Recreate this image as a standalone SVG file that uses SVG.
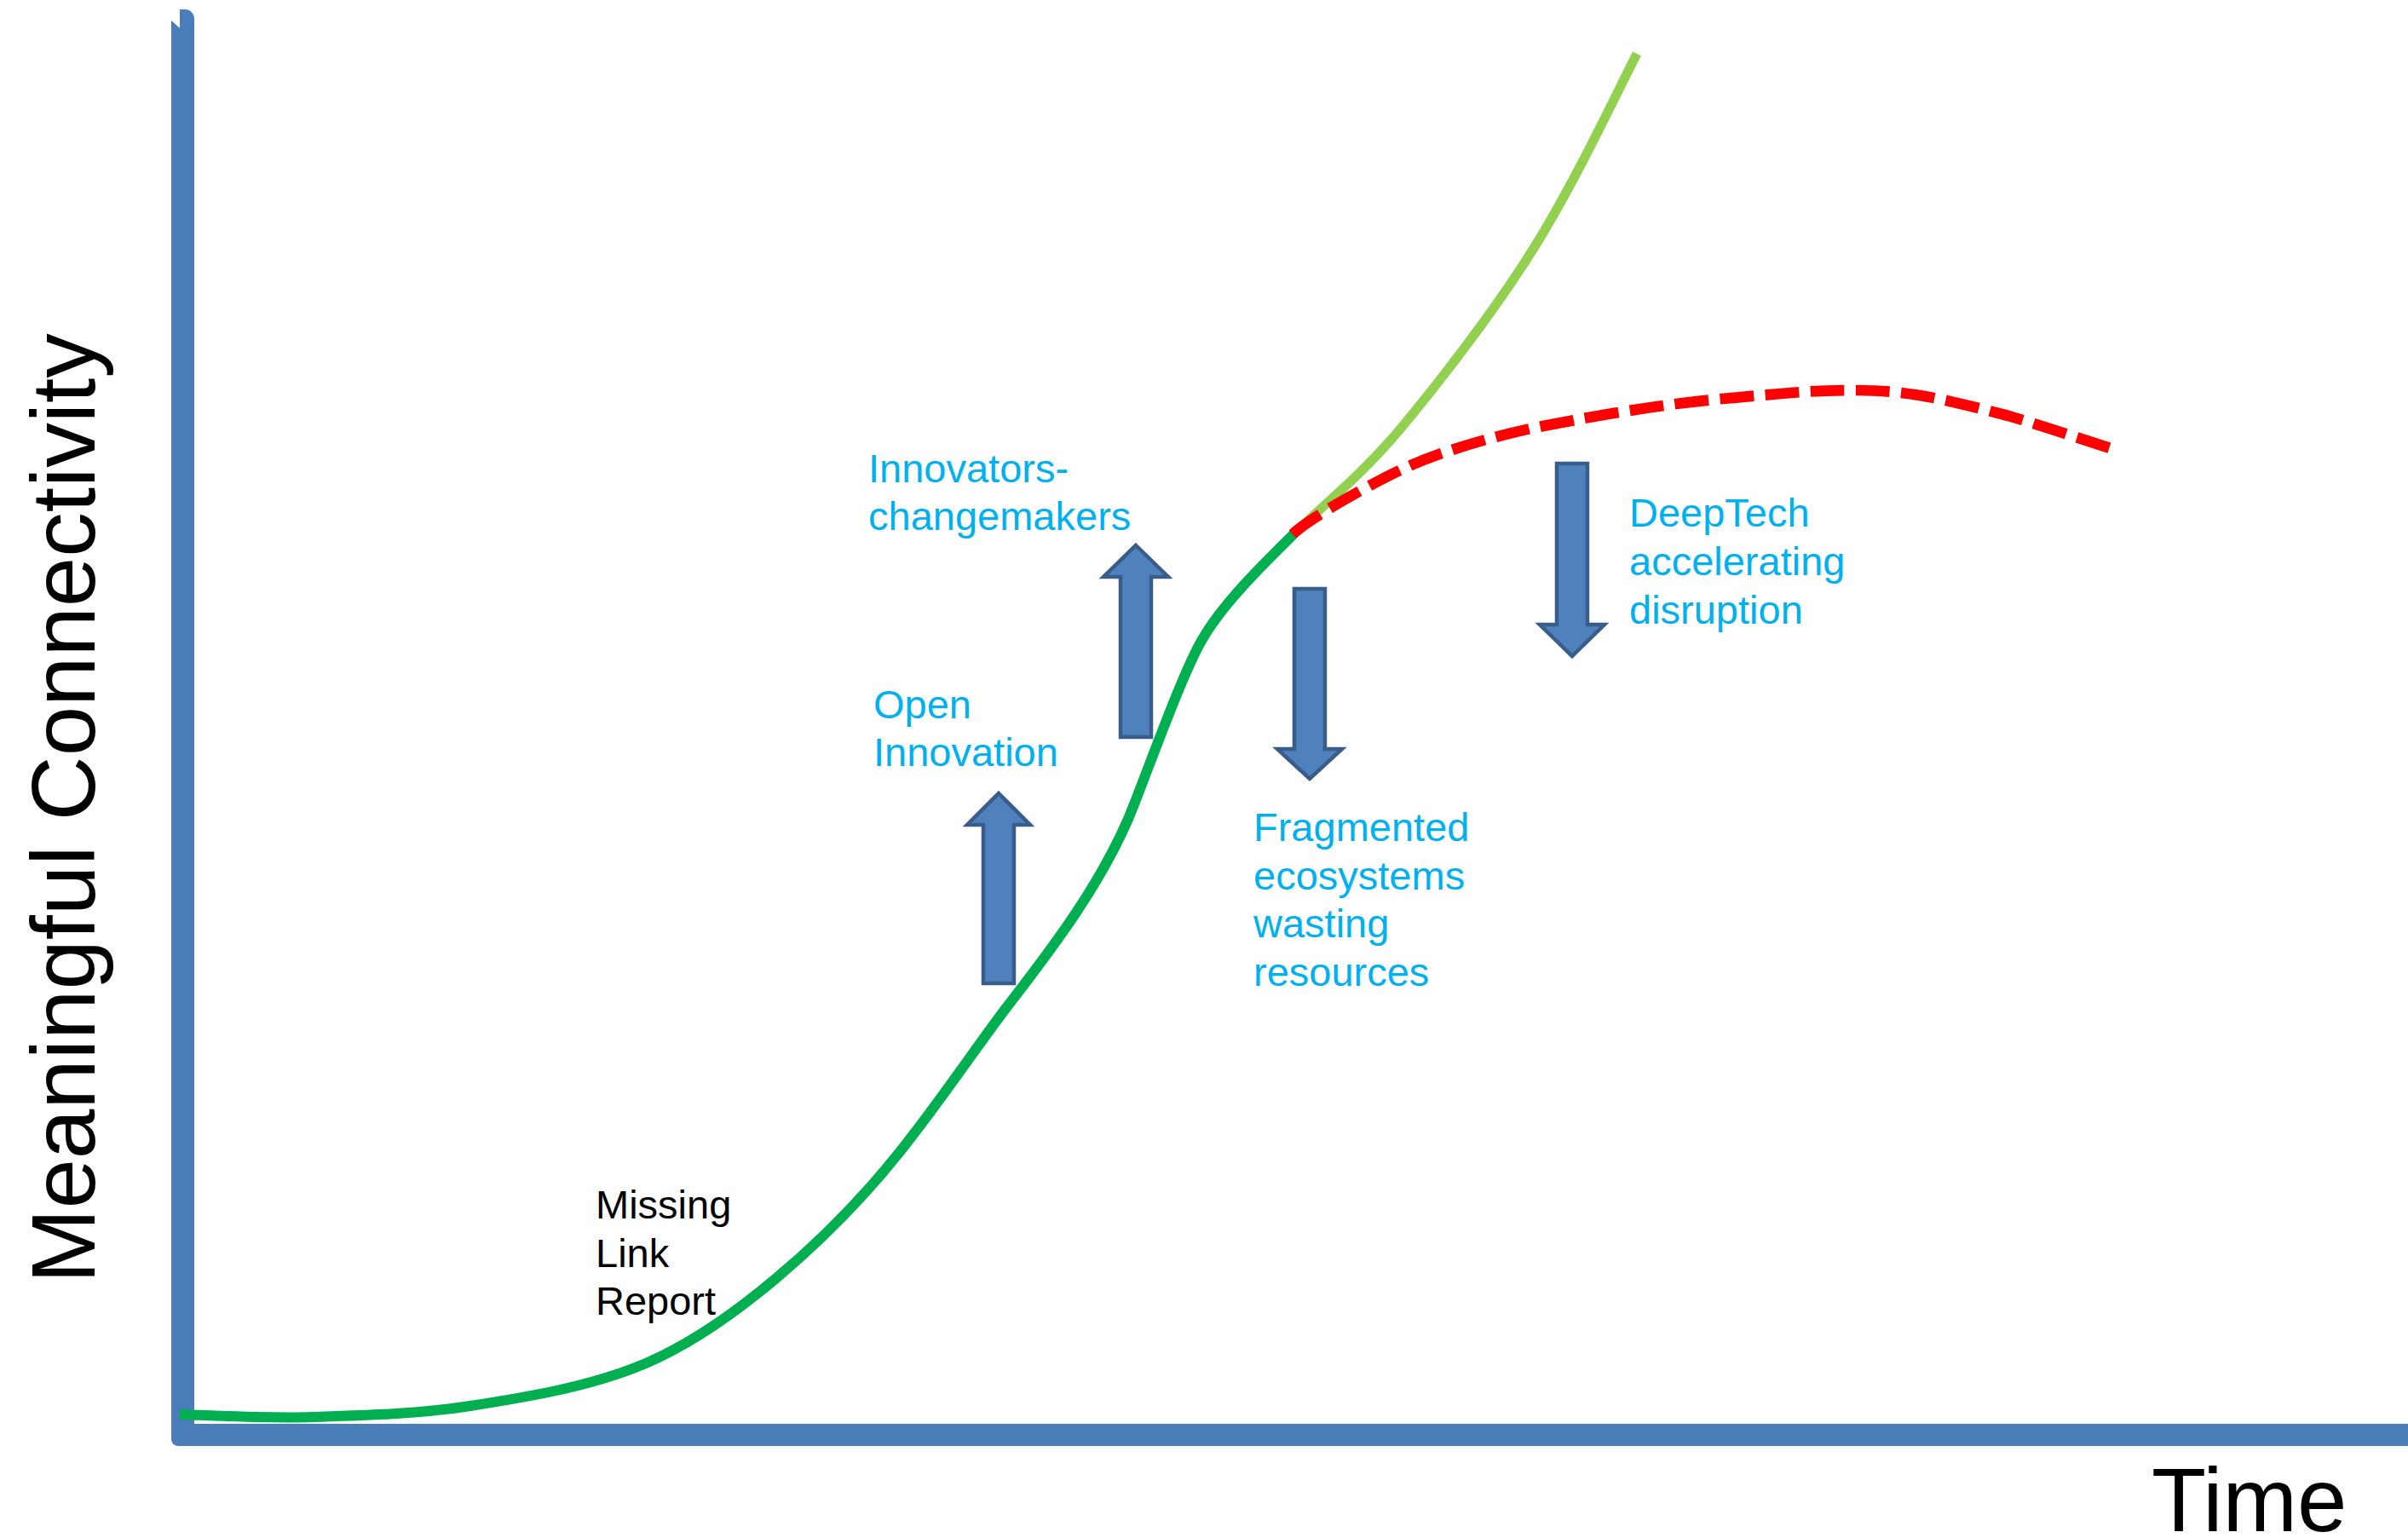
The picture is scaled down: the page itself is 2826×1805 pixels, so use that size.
<svg xmlns="http://www.w3.org/2000/svg" width="2826" height="1805" viewBox="0 0 2826 1805">
<style>
.lbl{font-family:"Liberation Sans",Arial,sans-serif;font-size:47px;fill:#00B0F0}
.blk{font-family:"Liberation Sans",Arial,sans-serif;font-size:47px;fill:#000000}
.big{font-family:"Liberation Sans",Arial,sans-serif;font-size:105px;fill:#000000}
.arrow{fill:#4F81BD;stroke:#385D8A;stroke-width:4.5;stroke-linejoin:miter}
.curve{fill:none;stroke-linecap:butt;stroke-linejoin:round}
</style>
<rect width="2826" height="1805" fill="#ffffff"/>
<g id="axes">
<path d="M201,24 L211,33 L211,11 L217,11 A11,11 0 0 1 228,22 L228,1671 L2826,1671 L2826,1697 L209,1697 A8,8 0 0 1 201,1689 Z" fill="#4A7EBB"/>
</g>
<g id="connectors">
<path id="curve-growth" class="curve" stroke="#00B050" stroke-width="12" d="M211,1660 C237,1660.5 311,1665 368,1663 C425,1661 488,1660 552,1650 C616,1640 690,1628 753,1602 C853,1561 975,1453 1055,1353 C1105,1290.5 1148,1225.5 1183,1180 C1228,1121.5 1296,1035 1331,944 C1361,866 1390,787 1410,752 C1435,707.5 1484,661 1519,626"/>
<path id="curve-exponential" class="curve" stroke="#92D050" stroke-width="11" d="M1519,626 C1549,596 1595,561 1642,505 C1689,449 1756,362 1802,288 C1848,214 1895,114 1921,63"/>
<path id="curve-plateau" class="curve" stroke="#FF0000" stroke-width="12.7" stroke-dasharray="40 13.3" d="M1517,627 C1535,610 1583,583 1613,567 C1643,551 1665,541 1698,530 C1731,519 1766,509 1811,500 C1856,491 1920,480 1967,474 C2014,468 2056,465 2090,462 C2124,459 2145,458 2172,458 C2199,458 2222,459 2253,464 C2284,469 2319,478 2357,488 C2395,499 2460,521 2480,527"/>
</g>
<g id="arrow-open-innovation">
<path class="arrow" d="M1172,931 L1209,968 L1190,968 L1190,1154 L1154,1154 L1154,968 L1135,968 Z"/>
</g>
<g id="arrow-innovators">
<path class="arrow" d="M1333,640 L1371,677 L1351,677 L1351,865 L1315,865 L1315,677 L1295,677 Z"/>
</g>
<g id="arrow-fragmented">
<path class="arrow" d="M1519,691 L1555,691 L1555,879 L1575,879 L1537,914 L1499,879 L1519,879 Z"/>
</g>
<g id="arrow-deeptech">
<path class="arrow" d="M1827,544 L1863,544 L1863,733 L1883,733 L1845,770 L1807,733 L1827,733 Z"/>
</g>
<g id="label-innovators">
<text class="lbl"><tspan x="1019" y="566">Innovators-</tspan><tspan x="1019" y="622">changemakers</tspan></text>
</g>
<g id="label-open-innovation">
<text class="lbl"><tspan x="1025" y="843">Open</tspan><tspan x="1025" y="899">Innovation</tspan></text>
</g>
<g id="label-fragmented">
<text class="lbl"><tspan x="1471" y="987">Fragmented</tspan><tspan x="1471" y="1043.5">ecosystems</tspan><tspan x="1471" y="1100">wasting</tspan><tspan x="1471" y="1156.5">resources</tspan></text>
</g>
<g id="label-deeptech">
<text class="lbl"><tspan x="1912" y="618">DeepTech</tspan><tspan x="1912" y="675">accelerating</tspan><tspan x="1912" y="732">disruption</tspan></text>
</g>
<g id="label-missing-link">
<text class="blk"><tspan x="699" y="1430">Missing</tspan><tspan x="699" y="1487">Link</tspan><tspan x="699" y="1543">Report</tspan></text>
</g>
<g id="label-time">
<text class="big" x="2525" y="1797">Time</text>
</g>
<g id="label-y-axis">
<text class="big" transform="translate(111,1506) rotate(-90)">Meaningful Connectivity</text>
</g>
</svg>
